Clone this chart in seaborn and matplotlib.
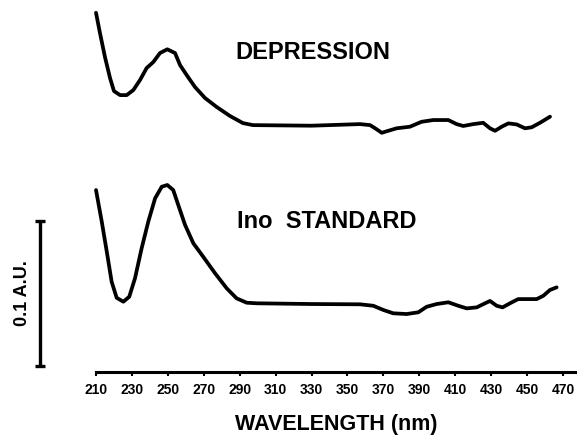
import matplotlib
matplotlib.use("Agg")
import matplotlib.pyplot as plt
import seaborn as sns

# ---- data (wavelength nm, absorbance with vertical offset between traces) ----
dep_wl = [210, 212.2, 215.0, 217.8, 220.0, 223.4, 227.1, 230.8, 234.5, 238.2, 241.9,
          245.6, 249.7, 254.0, 256.8, 260.5, 265.1, 270.7, 277.2, 284.6, 291.8, 297.4,
          330, 357.0, 362.6, 366.3, 369.1, 372.8, 377.4, 384.8, 391.3, 397.8, 406.2,
          410.8, 414.5, 420.1, 425.6, 429.4, 432.2, 435.9, 439.6, 444.2, 448.9, 452.6,
          457.2, 462.8]
dep_abs = [0.2478, 0.2338, 0.2172, 0.2028, 0.1938, 0.1910, 0.1910, 0.1945, 0.2014,
           0.2097, 0.2138, 0.2200, 0.2226, 0.2200, 0.2117, 0.2048, 0.1966, 0.1890,
           0.1828, 0.1766, 0.1717, 0.1703, 0.1699, 0.1710, 0.1703, 0.1674, 0.1650,
           0.1664, 0.1681, 0.1692, 0.1726, 0.1738, 0.1738, 0.1710, 0.1697, 0.1710,
           0.1719, 0.1681, 0.1664, 0.1692, 0.1715, 0.1708, 0.1681, 0.1688, 0.1719,
           0.1761]

std_wl = [210, 213.2, 216.0, 218.7, 221.5, 225.2, 228.5, 231.7, 235.4, 239.1, 242.9,
          246.6, 249.7, 253.0, 255.8, 259.6, 264.2, 269.7, 276.3, 282.8, 288.3, 293.9,
          299.5, 330, 357.0, 364.4, 370.0, 375.5, 383.0, 389.5, 394.1, 399.7, 406.2,
          411.7, 416.4, 422.0, 426.6, 429.4, 433.1, 436.4, 440.5, 445.1, 449.8, 455.4,
          459.1, 462.8, 466.5]
std_abs = [0.1255, 0.1037, 0.0830, 0.0623, 0.0512, 0.0485, 0.0519, 0.0646, 0.0853,
           0.1037, 0.1198, 0.1278, 0.1290, 0.1255, 0.1152, 0.1014, 0.0888, 0.0795,
           0.0681, 0.0577, 0.0508, 0.0478, 0.0474, 0.0469, 0.0467, 0.0457, 0.0428,
           0.0405, 0.0400, 0.0412, 0.0450, 0.0469, 0.0481, 0.0457, 0.0439, 0.0446,
           0.0474, 0.0490, 0.0457, 0.0446, 0.0474, 0.0503, 0.0503, 0.0503, 0.0526,
           0.0566, 0.0584]

tick_values = [210, 230, 250, 270, 290, 310, 330, 350, 370, 390, 410, 430, 450, 470]
tick_labels = [str(v) for v in tick_values]

curve_labels = ["DEPRESSION", "Ino  STANDARD"]
scale_label = "0.1 A.U."
xlabel = "WAVELENGTH (nm)"

# ---- style ----
sns.set_style("white")
plt.rcParams["font.family"] = ["Liberation Sans", "DejaVu Sans"]
plt.rcParams["font.weight"] = "bold"
plt.rcParams["text.color"] = "black"
plt.rcParams["axes.labelcolor"] = "black"
plt.rcParams["xtick.color"] = "black"
plt.rcParams["lines.solid_capstyle"] = "round"
plt.rcParams["lines.solid_joinstyle"] = "round"

fig = plt.figure(figsize=(5.79, 4.37), dpi=100)
ax = fig.add_axes([0.02625, 0.1487, 0.9677, 0.8513])

lw = 2.7
sns.lineplot(x=dep_wl, y=dep_abs, ax=ax, color="black", linewidth=lw, sort=False,
             estimator=None)
sns.lineplot(x=std_wl, y=std_abs, ax=ax, color="black", linewidth=lw, sort=False,
             estimator=None)

ax.set_xlim(165, 477)
ax.set_ylim(0, 0.2566)

# text labels
ax.text(287.4, 0.2207, curve_labels[0], fontsize=17, fontweight="bold",
        ha="left", va="center", color="black")
ax.text(288.5, 0.104, curve_labels[1], fontsize=17, fontweight="bold",
        ha="left", va="center", color="black")

# scale bar
ax.errorbar([178.8], [0.054], yerr=[0.05], fmt="none", ecolor="black",
            elinewidth=2.4, capsize=3.5, capthick=2.4, clip_on=False)
ax.text(168.8, 0.0545, scale_label, rotation=90, fontsize=13, fontweight="bold",
        ha="center", va="center", color="black")

# axes styling
for s in ["top", "right", "left"]:
    ax.spines[s].set_visible(False)
ax.spines["bottom"].set_linewidth(2.2)
ax.spines["bottom"].set_bounds(210, 477)
ax.spines["bottom"].set_color("black")
ax.set_yticks([])
ax.set_xticks(tick_values)
ax.set_xticklabels(tick_labels, fontsize=10, fontweight="bold", color="black")
ax.tick_params(axis="x", direction="out", length=3, width=1.5, pad=5,
               bottom=True, color="black")
ax.set_xlabel(xlabel, fontsize=15.5, fontweight="bold", color="black")
ax.xaxis.label.set_verticalalignment("center")
ax.xaxis.set_label_coords((336 - 15.2) / (575.5 - 15.2), -52 / 372)
ax.set_facecolor("white")

fig.savefig("out.png", dpi=100, facecolor="white")
